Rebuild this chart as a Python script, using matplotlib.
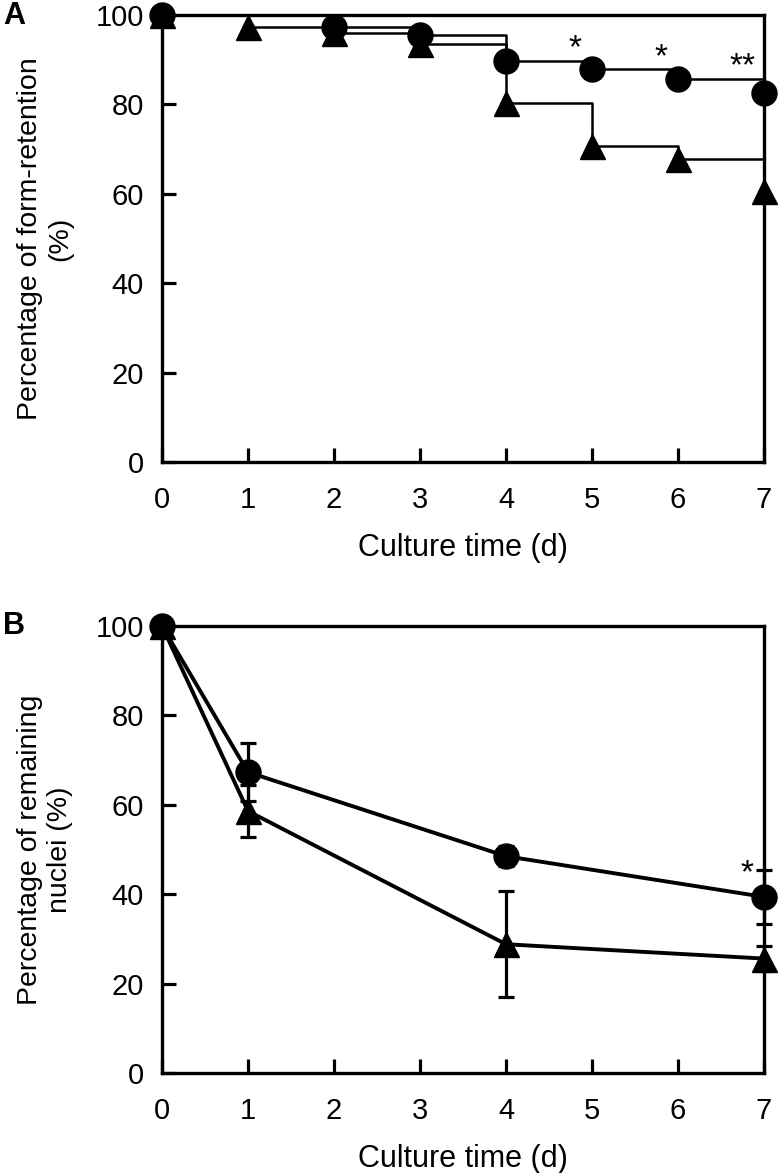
import numpy as np
import matplotlib
matplotlib.use("Agg")
import matplotlib.pyplot as plt

plt.rcParams['font.family'] = ['Liberation Sans', 'DejaVu Sans']

# ---- Panel A data (step / form-retention) ----
days_a_circle = [0, 2, 3, 4, 5, 6, 7]
vals_a_circle = [100, 97.3, 95.6, 89.8, 87.9, 85.7, 82.5]
days_a_tri = [0, 1, 2, 3, 4, 5, 6, 7]
vals_a_tri = [100, 97.4, 96.0, 93.6, 80.4, 70.7, 67.8, 60.7]
stars_a_x = [4.8, 5.8, 6.75]
stars_a_y = [92.5, 90.5, 88.5]
stars_a_txt = ['*', '*', '**']

# ---- Panel B data (remaining nuclei) ----
days_b = [0, 1, 4, 7]
vals_b_circle = [100, 67.3, 48.5, 39.4]
err_b_circle = [0, 6.5, 2.2, 6.1]
vals_b_tri = [100, 58.6, 28.8, 25.6]
err_b_tri = [0, 5.8, 11.9, 2.8]
stars_b_x = [6.8]
stars_b_y = [44.5]
stars_b_txt = ['*']

xticks = [0, 1, 2, 3, 4, 5, 6, 7]
yticks = [0, 20, 40, 60, 80, 100]

fig = plt.figure(figsize=(7.8, 11.73), dpi=100)
L, R = 162 / 780, 764 / 780
axA = fig.add_axes([L, 1 - 462 / 1173, R - L, (462 - 15) / 1173])
axB = fig.add_axes([L, 1 - 1073 / 1173, R - L, (1073 - 626) / 1173])

FS = 21
for ax in (axA, axB):
    ax.set_xlim(0, 7)
    ax.set_ylim(0, 100)
    ax.set_xticks(xticks)
    ax.set_yticks(yticks)
    ax.tick_params(direction='in', length=10, width=2.3, labelsize=FS)
    ax.tick_params(axis='x', pad=17)
    ax.tick_params(axis='y', pad=13)
    for s in ax.spines.values():
        s.set_linewidth(2.4)
    ax.set_xlabel('Culture time (d)', fontsize=22, labelpad=14)

# Panel A
axA.step(days_a_circle, vals_a_circle, where='post', color='black', lw=1.8,
         clip_on=False, zorder=3)
axA.step(days_a_tri, vals_a_tri, where='post', color='black', lw=1.8,
         clip_on=False, zorder=3)
axA.plot(days_a_tri, vals_a_tri, linestyle='none', marker='^', ms=18,
         color='black', clip_on=False, zorder=4)
axA.plot(days_a_circle, vals_a_circle, linestyle='none', marker='o', ms=18,
         color='black', clip_on=False, zorder=5)
for x, y, s in zip(stars_a_x, stars_a_y, stars_a_txt):
    axA.text(x, y, s, fontsize=24, ha='center', va='center')
axA.set_ylabel('Percentage of form-retention\n(%)', fontsize=20.5,
               labelpad=16, linespacing=1.2)

# Panel B
axB.errorbar(days_b, vals_b_tri, yerr=err_b_tri, color='black', lw=2.8,
             elinewidth=2.3, capsize=5.5, capthick=2.3, marker='^', ms=18,
             clip_on=False, zorder=3)
axB.errorbar(days_b, vals_b_circle, yerr=err_b_circle, color='black', lw=2.8,
             elinewidth=2.3, capsize=5.5, capthick=2.3, marker='o', ms=18,
             clip_on=False, zorder=4)
for x, y, s in zip(stars_b_x, stars_b_y, stars_b_txt):
    axB.text(x, y, s, fontsize=24, ha='center', va='center')
axB.set_ylabel('Percentage of remaining\nnuclei (%)', fontsize=20.5,
               labelpad=16, linespacing=1.2)

fig.text(3 / 780, 1 - 16 / 1173, 'A', fontsize=22, fontweight='bold',
         va='center', ha='left')
fig.text(3 / 780, 1 - 626 / 1173, 'B', fontsize=22, fontweight='bold',
         va='center', ha='left')

fig.savefig('out.png', dpi=100)
